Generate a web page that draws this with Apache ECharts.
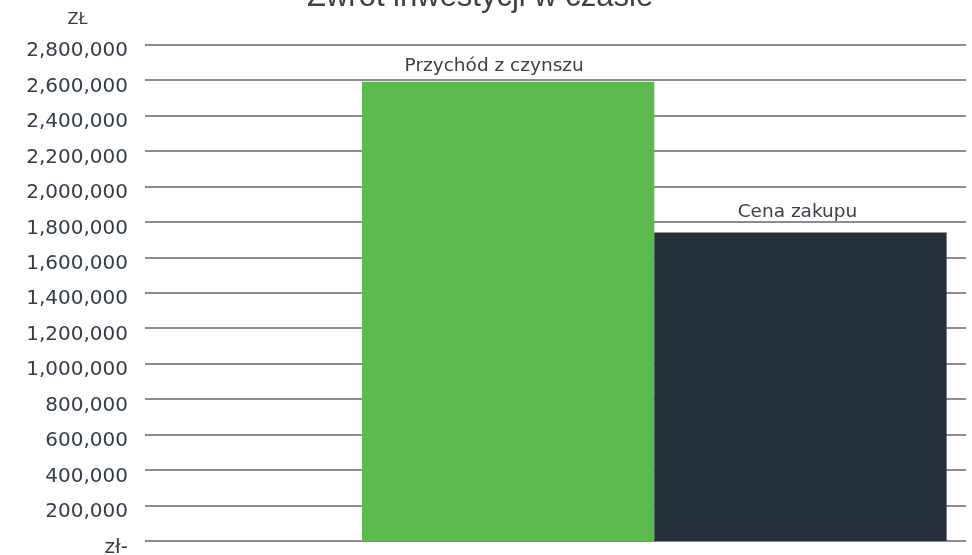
<!DOCTYPE html>
<html>
<head>
<meta charset="utf-8">
<script src="https://cdn.jsdelivr.net/npm/echarts@6/dist/echarts.min.js"></script>
<style>
html,body{margin:0;padding:0;background:#fff;}
#chart{width:972px;height:555px;}
</style>
</head>
<body>
<div id="chart"></div>
<script>
var titleText = 'Zwrot inwestycji w czasie';
var axisName = 'ZŁ';
var categories = ['Zwrot inwestycji'];
var seriesNames = ['Przychód z czynszu', 'Cena zakupu'];
var rentIncome = [2590000];
var purchasePrice = [1740000];
var yMin = 0, yMax = 2800000, yStep = 200000;

var FONT = 'DejaVu Sans';
var TXT = '#343d48';

function fmt(v) {
  var s = (v === 0) ? 'zł-' : String(v).replace(/\B(?=(\d{3})+(?!\d))/g, ',');
  return '{g| }\n{v|' + s + '}';
}

var chart = echarts.init(document.getElementById('chart'));
chart.setOption({
  animation: false,
  backgroundColor: '#ffffff',
  title: {
    text: titleText,
    left: 307,
    top: -18,
    padding: 0,
    textStyle: { fontFamily: 'Liberation Sans', fontSize: 31, fontWeight: 'normal', color: '#404040' }
  },
  grid: [
    { left: 342.6, right: 6, top: 44.5, bottom: 14, containLabel: false, outerBoundsMode: 'none' },
    { left: 145, right: 6, top: 44.5, bottom: 14, containLabel: false, outerBoundsMode: 'none' }
  ],
  xAxis: [
    { type: 'category', gridIndex: 0, data: categories, show: false },
    { type: 'category', gridIndex: 1, data: categories, show: false }
  ],
  yAxis: [
    { type: 'value', gridIndex: 0, min: yMin, max: yMax, interval: yStep, show: false },
    {
      type: 'value', gridIndex: 1, min: yMin, max: yMax, interval: yStep,
      name: axisName,
      nameLocation: 'end',
      nameGap: 17,
      nameMoveOverlap: false,
      nameTextStyle: { fontFamily: FONT, fontSize: 16, color: TXT, align: 'center', padding: [0, 135, 0, 0] },
      axisLine: { show: false },
      axisTick: { show: false },
      axisLabel: {
        margin: 17,
        showMinLabel: true,
        showMaxLabel: true,
        hideOverlap: false,
        formatter: fmt,
        rich: {
          g: { fontSize: 10, lineHeight: 13, height: 13 },
          v: { fontFamily: FONT, fontSize: 20, lineHeight: 20, color: TXT }
        }
      },
      splitLine: { show: true, lineStyle: { color: '#8c8c8c', width: 2 } }
    }
  ],
  series: [
    {
      name: seriesNames[0], type: 'bar', xAxisIndex: 0, yAxisIndex: 0,
      data: rentIncome, barWidth: 292.3, barGap: '0%',
      itemStyle: { color: '#5aba4c' },
      label: {
        show: true, position: 'top', distance: 6, offset: [-14, 0],
        formatter: '{a}', fontFamily: FONT, fontSize: 18.5, color: '#3b4148'
      },
      z: 3
    },
    {
      name: seriesNames[1], type: 'bar', xAxisIndex: 0, yAxisIndex: 0,
      data: purchasePrice, barWidth: 292.3, barGap: '0%',
      itemStyle: { color: '#252f3a' },
      label: {
        show: true, position: 'top', distance: 11, offset: [-3, 0],
        formatter: '{a}', fontFamily: FONT, fontSize: 18.5, color: '#3b4148'
      },
      z: 3
    }
  ]
});
</script>
</body>
</html>
